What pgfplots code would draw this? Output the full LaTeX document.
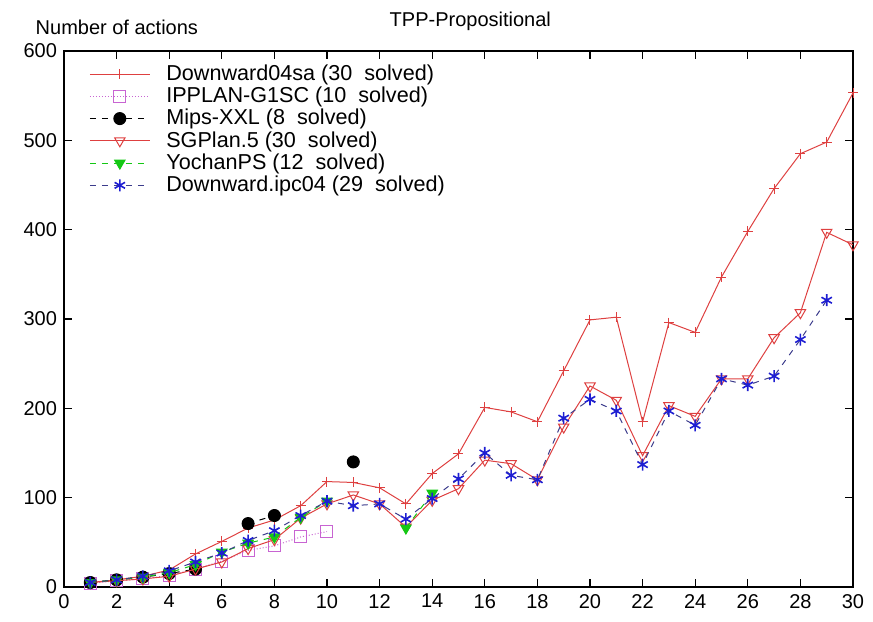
\documentclass[border=0pt]{standalone}
\usepackage{fontspec}
\setmainfont{Liberation Sans}
\usepackage{pgfplots}
\pgfplotsset{compat=1.18}
\definecolor{dred}{RGB}{222,64,64}
\definecolor{dmag}{RGB}{200,100,210}
\definecolor{dgreen}{RGB}{20,200,20}
\definecolor{dblue}{RGB}{30,30,210}
\definecolor{dbline}{RGB}{60,60,140}
\begin{document}
\begin{tikzpicture}
\begin{axis}[
  scale only axis, width=394.5pt, height=268pt,
  xmin=0, xmax=30, ymin=0, ymax=600,
  clip mode=individual,
  xtick={0,2,...,30}, ytick={0,100,...,600},
  tick align=inside, major tick length=4pt,
  axis line style={line width=1pt},
  tick style={black, line width=0.6pt},
  /pgf/number format/assume math mode=true,
  ticklabel style={font=\fontsize{10}{12}\selectfont},
  unbounded coords=jump,
  legend style={at={(axis description cs:0.024,0.99)}, anchor=north west, draw=none, fill=none,
    font=\fontsize{10.8}{10.8}\selectfont, row sep=-2.2pt,
    /tikz/every odd column/.append style={column sep=6pt}},
  legend cell align=left,
  legend image code/.code={\draw[mark repeat=2,mark phase=2] plot coordinates {(0pt,0pt)(15pt,0pt)(30pt,0pt)};},
]
\addplot[dred, line width=0.5pt, mark=+, mark size=2.5pt] coordinates {
(1,5)(2,8)(3,12)(4,19)(5,37)(6,51)(7,66)(8,75)(9,91)(10,118)(11,117)(12,111)(13,93)(14,127)(15,149)(16,201)(17,196)(18,185)(19,242)(20,299)(21,302)(22,185)(23,296)(24,285)(25,347)(26,398)(27,446)(28,485)(29,498)(30,553)};
\addlegendentry{Downward04sa (30~ solved)}
\addplot[dmag, densely dotted, line width=0.5pt, mark=square, mark size=3pt, mark options={solid}] coordinates {
(1,4)(2,7)(3,9)(4,13)(5,20)(6,29)(7,41)(8,46)(9,56)(10,62)};
\addlegendentry{IPPLAN-G1SC (10~ solved)}
\addplot[black, dashed, line width=0.5pt, mark=*, mark size=3pt, mark options={solid}] coordinates {
(1,5)(2,8)(3,11)(4,15)(5,20)(6,nan)(7,71)(8,80)(9,nan)(10,nan)(11,140)};
\addlegendentry{Mips-XXL (8~ solved)}
\addplot[dred, line width=0.5pt, mark=triangle, mark size=3pt, mark options={rotate=180}] coordinates {
(1,5)(2,7)(3,9)(4,12)(5,20)(6,28)(7,43)(8,53)(9,77)(10,93)(11,103)(12,93)(13,67)(14,97)(15,110)(16,142)(17,138)(18,120)(19,179)(20,225)(21,209)(22,147)(23,203)(24,191)(25,233)(26,233)(27,279)(28,307)(29,397)(30,383)};
\addlegendentry{SGPlan.5 (30~ solved)}
\addplot[dgreen, dashed, line width=0.5pt, mark=triangle*, mark size=3pt, mark options={solid, rotate=180}] coordinates {
(1,5)(2,8)(3,11)(4,16)(5,25)(6,39)(7,49)(8,56)(9,78)(10,96)(11,nan)(12,nan)(13,66)(14,105)};
\addlegendentry{YochanPS (12~ solved)}
\addplot[dbline, dashed, line width=0.5pt, mark=asterisk, mark size=3pt, mark options={solid, dblue, line width=0.8pt}] coordinates {
(1,5)(2,8)(3,12)(4,18)(5,28)(6,38)(7,52)(8,63)(9,80)(10,96)(11,91)(12,93)(13,76)(14,99)(15,121)(16,150)(17,125)(18,120)(19,189)(20,210)(21,197)(22,137)(23,197)(24,181)(25,233)(26,226)(27,236)(28,277)(29,321)};
\addlegendentry{Downward.ipc04 (29~ solved)}
\node[anchor=base, yshift=12pt, font=\fontsize{10}{12}\selectfont] at (axis description cs:0.515,1) {TPP-Propositional};
\node[anchor=base, yshift=8pt, font=\fontsize{10}{12}\selectfont] at (axis description cs:0.067,1) {Number of actions};
\end{axis}
\pgfresetboundingbox
\useasboundingbox ([shift={(-32pt,-17.5pt)}]current axis.south west) rectangle ([shift={(10pt,25.5pt)}]current axis.north east);
\end{tikzpicture}
\end{document}
